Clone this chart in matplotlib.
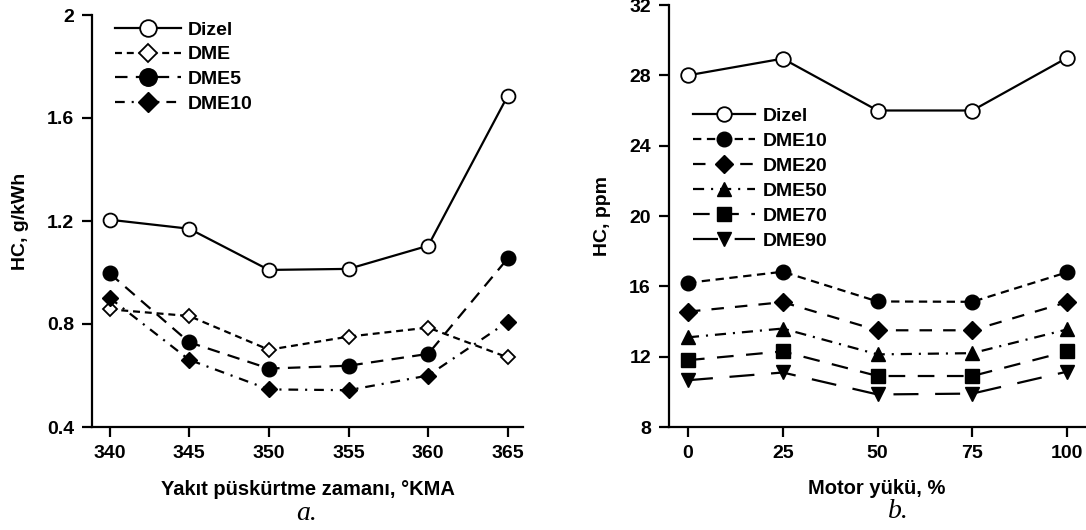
import matplotlib
matplotlib.use("Agg")
import matplotlib.pyplot as plt

plt.rcParams['font.family'] = ['Liberation Sans', 'DejaVu Sans']
plt.rcParams['font.weight'] = 'bold'
plt.rcParams['lines.scale_dashes'] = False

# ---- data: panel a ----
inj_timing = [340, 345, 350, 355, 360, 365]
a_dizel = [1.205, 1.17, 1.01, 1.014, 1.104, 1.687]
a_dme = [0.857, 0.831, 0.70, 0.751, 0.786, 0.67]
a_dme5 = [0.997, 0.729, 0.627, 0.638, 0.684, 1.055]
a_dme10 = [0.902, 0.661, 0.546, 0.543, 0.60, 0.809]
a_xticks = [340, 345, 350, 355, 360, 365]
a_yticks = [0.4, 0.8, 1.2, 1.6, 2.0]
a_yticklabels = ['0.4', '0.8', '1.2', '1.6', '2']

# ---- data: panel b ----
load = [0, 25, 50, 75, 100]
b_dizel = [28.0, 28.95, 26.0, 26.0, 29.0]
b_dme10 = [16.2, 16.83, 15.14, 15.12, 16.8]
b_dme20 = [14.56, 15.1, 13.5, 13.5, 15.1]
b_dme50 = [13.1, 13.6, 12.13, 12.2, 13.55]
b_dme70 = [11.8, 12.3, 10.9, 10.9, 12.3]
b_dme90 = [10.66, 11.1, 9.85, 9.9, 11.15]
b_xticks = [0, 25, 50, 75, 100]
b_yticks = [8, 12, 16, 20, 24, 28, 32]

W, H = 1086, 530
fig = plt.figure(figsize=(W / 100, H / 100), dpi=100)

def fx(px):
    return px / W

def fy(py):
    return 1 - py / H

axa = fig.add_axes([fx(92), fy(427), fx(523) - fx(92), fy(15) - fy(427)])
axb = fig.add_axes([fx(669), fy(427), fx(1085) - fx(669), fy(5) - fy(427)])

FS = 14
LW = 1.6

def style(ax):
    for s in ['top', 'right']:
        ax.spines[s].set_visible(False)
    for s in ['left', 'bottom']:
        ax.spines[s].set_linewidth(1.6)
    ax.tick_params(direction='out', length=7, width=1.6, labelsize=FS, pad=6)
    for lab in ax.get_xticklabels() + ax.get_yticklabels():
        lab.set_fontweight('bold')

# panel a
axa.plot(inj_timing, a_dizel, '-', color='k', lw=LW, marker='o', ms=10, mfc='white', mec='k', mew=1.3, label='Dizel')
axa.plot(inj_timing, a_dme, color='k', lw=LW, ls=(0, (5, 3.5)), marker='D', ms=7.5, mfc='white', mec='k', mew=1.3, label='DME')
axa.plot(inj_timing, a_dme5, color='k', lw=LW, ls=(0, (9, 6)), marker='o', ms=10.5, mfc='k', mec='k', label='DME5')
axa.plot(inj_timing, a_dme10, color='k', lw=LW, ls=(0, (7, 5, 1.5, 5)), marker='D', ms=8.5, mfc='k', mec='k', label='DME10')
axa.set_xlim(338.9, 365.95)
axa.set_ylim(0.4, 2.0)
axa.set_xticks(a_xticks)
axa.set_yticks(a_yticks)
axa.set_yticklabels(a_yticklabels)
style(axa)
axa.set_ylabel('HC, g/kWh', fontsize=FS, fontweight='bold', labelpad=13)
axa.set_xlabel('Yakıt püskürtme zamanı, °KMA', fontsize=14.5, fontweight='bold', labelpad=13)
axa.legend(loc='upper left', bbox_to_anchor=(0.053, 0.985), frameon=False,
           handlelength=3.4, handletextpad=0.35, labelspacing=0.36, borderpad=0, borderaxespad=0,
           numpoints=1, markerscale=1.2, prop={'weight': 'bold', 'size': FS})

# panel b
axb.plot(load, b_dizel, '-', color='k', lw=LW, marker='o', ms=10.5, mfc='white', mec='k', mew=1.3, label='Dizel')
axb.plot(load, b_dme10, color='k', lw=LW, ls=(0, (6, 4)), marker='o', ms=10.5, mfc='k', mec='k', label='DME10')
axb.plot(load, b_dme20, color='k', lw=LW, ls=(0, (9, 8)), marker='D', ms=9, mfc='k', mec='k', label='DME20')
axb.plot(load, b_dme50, color='k', lw=LW, ls=(0, (8, 5, 1.5, 5)), marker='^', ms=10.5, mfc='k', mec='k', label='DME50')
axb.plot(load, b_dme70, color='k', lw=LW, ls=(0, (12, 9)), marker='s', ms=10.5, mfc='k', mec='k', label='DME70')
axb.plot(load, b_dme90, color='k', lw=LW, ls=(0, (18, 12)), marker='v', ms=10.5, mfc='k', mec='k', label='DME90')
axb.set_xlim(-5, 104.7)
axb.set_ylim(8, 32)
axb.set_xticks(b_xticks)
axb.set_yticks(b_yticks)
style(axb)
axb.set_ylabel('HC, ppm', fontsize=FS, fontweight='bold', labelpad=13)
axb.set_xlabel('Motor yükü, %', fontsize=14.5, fontweight='bold', labelpad=12)
axb.legend(loc='upper left', bbox_to_anchor=(0.057, 0.758), frameon=False,
           handlelength=3.2, handletextpad=0.4, labelspacing=0.38, borderpad=0, borderaxespad=0,
           numpoints=1, prop={'weight': 'bold', 'size': FS})

fig.text(fx(307), fy(514), 'a.', family='Liberation Serif', style='italic', fontweight='normal',
         fontsize=20, ha='center', va='center')
fig.text(fx(898), fy(512), 'b.', family='Liberation Serif', style='italic', fontweight='normal',
         fontsize=20, ha='center', va='center')

fig.savefig('out.png', dpi=100)
